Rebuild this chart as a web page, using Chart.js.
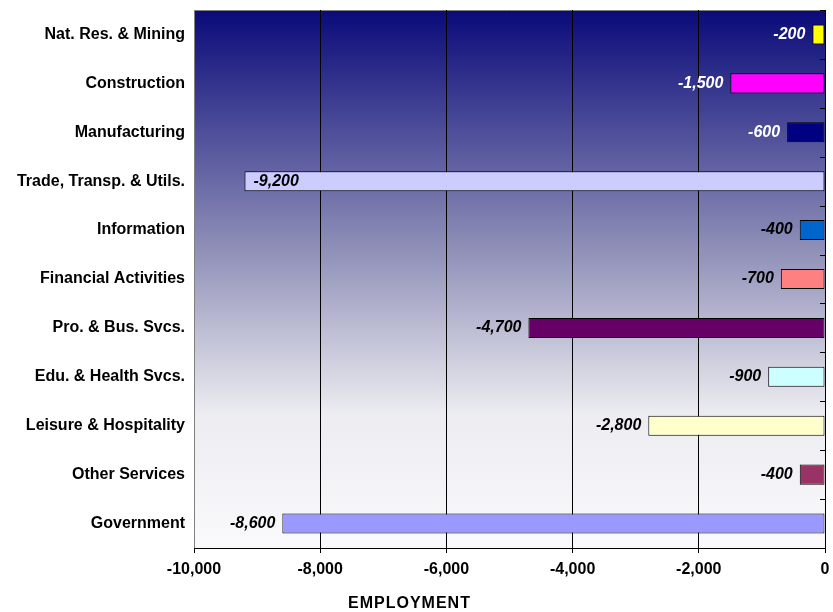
<!DOCTYPE html>
<html>
<head>
<meta charset="utf-8">
<script src="https://cdn.jsdelivr.net/npm/chart.js@4/dist/chart.umd.min.js"></script>
<style>
  body { margin: 0; background: #fff; }
  #wrap { width: 833px; height: 612px; position: relative; }
</style>
</head>
<body>
<div id="wrap"><canvas id="chart1"></canvas></div>
<script>
// data
const industries = ['Nat. Res. & Mining', 'Construction', 'Manufacturing', 'Trade, Transp. & Utils.',
  'Information', 'Financial Activities', 'Pro. & Bus. Svcs.', 'Edu. & Health Svcs.',
  'Leisure & Hospitality', 'Other Services', 'Government'];
const jobChange = [-200, -1500, -600, -9200, -400, -700, -4700, -900, -2800, -400, -8600];
const barColors = ['#FFFF00', '#FF00FF', '#000080', '#CCCCFF', '#0066CC', '#FF8080',
  '#660066', '#CCFFFF', '#FFFFCC', '#993366', '#9999FF'];
const xMin = -10000, xMax = 0, xStep = 2000;
const axisTitle = 'EMPLOYMENT';

const fmt = v => v.toLocaleString('en-US');
const FONT = '"Liberation Sans", Arial, sans-serif';

//gradient behind the bars
const plotBg = {
  id: 'plotBg',
  beforeDraw(chart) {
    const { ctx, chartArea: a } = chart;
    let g = ctx.createLinearGradient(0, a.top, 0, a.bottom);
    g.addColorStop(0, 'rgb(10,10,122)');
    g.addColorStop(0.45, 'rgb(145,145,185)');
    g.addColorStop(0.75, 'rgb(236,236,241)');
    g.addColorStop(1, 'rgb(250,250,252)');
    ctx.save();
    ctx.fillStyle = g;
    ctx.fillRect(a.left, a.top, a.right - a.left, a.bottom - a.top);
    ctx.strokeStyle = '#808080';
    ctx.lineWidth = 1;
    ctx.beginPath();
    ctx.moveTo(a.left + 0.5, a.bottom);
    ctx.lineTo(a.left + 0.5, a.top + 0.5);
    ctx.lineTo(a.right, a.top + 0.5);
    ctx.stroke();
    ctx.restore();
  },
  //small ticks on the zero line between categories + axis title
  afterDraw(chart) {
    const { ctx, chartArea: a, scales } = chart;
    const y = scales.y;
    ctx.save();
    ctx.strokeStyle = '#000';
    ctx.lineWidth = 1;
    ctx.beginPath();
    for (let i = 0; i <= industries.length; i++) {
      const py = Math.round(y.getPixelForValue(i - 0.5)) + 0.5;
      ctx.moveTo(a.right - 5, py);
      ctx.lineTo(a.right, py);
    }
    ctx.stroke();
    ctx.font = 'bold 16px ' + FONT;
    ctx.letterSpacing = '1px';
    ctx.fillStyle = '#000';
    ctx.textAlign = 'center';
    ctx.textBaseline = 'middle';
    ctx.fillText(axisTitle, chart.width / 2 - 7, 604);
    ctx.restore();
  }
};

//value labels next to the bars
const barLabels = {
  id: 'barLabels',
  afterDatasetsDraw(chart) {
    const { ctx, chartArea: a } = chart;
    const meta = chart.getDatasetMeta(0);
    ctx.save();
    ctx.font = 'italic bold 16px ' + FONT;
    ctx.textBaseline = 'middle';
    meta.data.forEach((bar, i) => {
      const txt = fmt(jobChange[i]);
      const w = ctx.measureText(txt).width;
      ctx.fillStyle = bar.y < a.top + (a.bottom - a.top) * 0.28 ? '#fff' : '#000';
      if (bar.x - w - 8 < a.left) {
        ctx.textAlign = 'left';
        ctx.fillStyle = '#000';
        ctx.fillText(txt, bar.x + 9, bar.y);
      } else {
        ctx.textAlign = 'right';
        ctx.fillText(txt, bar.x - 7, bar.y);
      }
    });
    ctx.restore();
  }
};

const ctx = document.getElementById('chart1').getContext('2d');
const chart1 = new Chart(ctx, {
  type: 'bar',
  data: {
    labels: industries,
    datasets: [{
      data: jobChange,
      backgroundColor: barColors,
      borderColor: '#000',
      borderWidth: 1,
      borderSkipped: false,
      categoryPercentage: 1,
      barPercentage: 0.41
    }]
  },
  options: {
    indexAxis: 'y',
    responsive: true,
    maintainAspectRatio: false,
    animation: false,
    layout: { padding: { top: 10, right: 8, bottom: 0, left: 0 } },
    scales: {
      x: {
        min: xMin,
        max: xMax,
        ticks: {
          stepSize: xStep,
          color: '#000',
          padding: 7,
          font: { family: FONT, size: 16, weight: 'bold' },
          callback: v => fmt(v)
        },
        grid: {
          color: c => c.tick && c.tick.value === xMin ? '#808080' : '#000',
          tickColor: '#000',
          tickLength: 5,
          lineWidth: 1
        },
        border: { color: '#000' },
        afterFit(s) { s.height = 64; s.paddingLeft = 0; s.paddingRight = 0; }
      },
      y: {
        grid: { display: false, drawTicks: false },
        border: { display: false },
        ticks: {
          color: '#000',
          padding: 9,
          font: { family: FONT, size: 16, weight: 'bold' }
        },
        afterFit(s) { s.width = 194; s.paddingTop = 0; s.paddingBottom = 0; }
      }
    },
    plugins: {
      legend: { display: false },
      tooltip: { enabled: false }
    }
  },
  plugins: [plotBg, barLabels]
});
</script>
</body>
</html>
